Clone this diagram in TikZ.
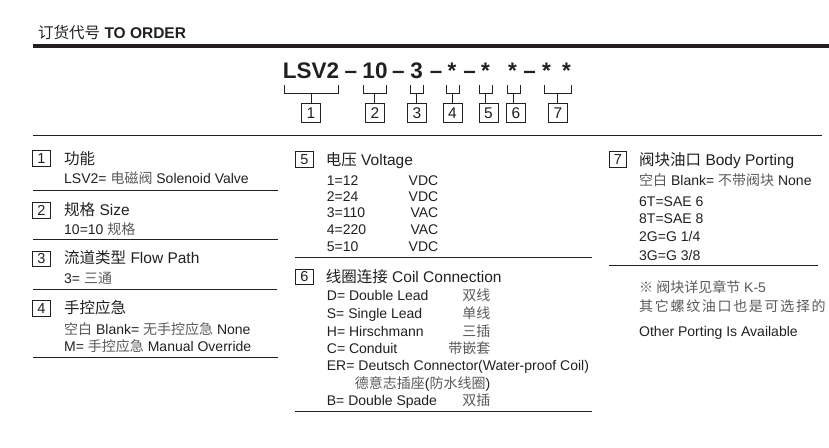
\documentclass[tikz,border=0pt]{standalone}
\usepackage{fontspec}
\setmainfont{Liberation Sans}
\newfontfamily\cjk{Noto Sans CJK SC}
\newfontfamily\cjkwide[LetterSpace=12]{Noto Sans CJK SC}
\usetikzlibrary{calc,positioning}
\definecolor{ink}{HTML}{231F20}
\definecolor{zhgray}{HTML}{5A5A5A}
\tikzset{
%Define styles for the different texts
head text/.style={anchor=base west, inner sep=0pt, text=ink, font=\fontsize{15.5}{18}\selectfont},
code text/.style={anchor=base, inner sep=0pt, text=ink, font=\fontsize{22.5}{26}\selectfont\bfseries},
title text/.style={anchor=base west, inner sep=0pt, text=ink, font=\fontsize{15.5}{18}\selectfont},
item text/.style={anchor=base west, inner sep=0pt, text=ink, font=\fontsize{14}{16}\selectfont},
%Define styles for boxes and lines
num box/.style={draw=ink, line width=0.9pt, minimum width=19pt, minimum height=19pt, inner sep=0pt, text=ink, font=\fontsize{15.5}{18}\selectfont},
sec box/.style={draw=ink, line width=0.9pt, minimum width=17.5pt, minimum height=15.5pt, inner sep=0pt, text=ink, font=\fontsize{14.5}{16}\selectfont},
thin rule/.style={line width=0.9pt, draw=ink},
thick rule/.style={line width=4pt, draw=ink},
code bracket/.style={line width=0.9pt, draw=ink},
}
\newcommand\zh[1]{{\cjk\color{zhgray}#1}}
\newcommand\zht[1]{{\cjk #1}}

\begin{document}
\begin{tikzpicture}[x=1pt,y=-1pt]
    \useasboundingbox (0,0) rectangle (829,447);
    %Heading and the rules
    \node[head text] (head) at (38,38) {\zht{订货代号} \textbf{TO ORDER}};
    \draw[thick rule] (33,46) -- (829,46);
    \draw[thin rule] (33,135) -- (822,135);

    %%%%%%%%%%%%%%%%%%%%%%
    %The order code
    %%%%%%%%%%%%%%%%%%%%%%
    \node[code text] (c1) at (311,78) {LSV2};
    \node[code text] (d1) at (351,78) {--};
    \node[code text] (c2) at (375,78) {10};
    \node[code text] (d2) at (398.5,78) {--};
    \node[code text] (c3) at (416.5,78) {3};
    \node[code text] (d3) at (436,78) {--};
    \node[code text] (c4) at (452,78) {*};
    \node[code text] (d4) at (469.5,78) {--};
    \node[code text] (c5) at (485.5,78) {*};
    \node[code text] (c6) at (512.5,78) {*};
    \node[code text] (d5) at (529.5,78) {--};
    \node[code text] (c7) at (546.5,78) {*};
    \node[code text] (c8) at (566.5,78) {*};

    %Numbered boxes under the code
    \node[num box] (num1) at (311,113) {1};
    \node[num box] (num2) at (375,113) {2};
    \node[num box] (num3) at (417,113) {3};
    \node[num box] (num4) at (452.5,113) {4};
    \node[num box] (num5) at (488.5,113) {5};
    \node[num box] (num6) at (516,113) {6};
    \node[num box] (num7) at (558,113) {7};

    %Brackets from the code to the boxes
    %%1
    \draw[code bracket] (284,85) |- (338,93) -- (338,85);
    \draw[code bracket] (311,93) |- (num1.north);
    %%2
    \draw[code bracket] (363,85) |- (386,93) -- (386,85);
    \draw[code bracket] (374.5,93) |- (num2.north);
    %%3
    \draw[code bracket] (410,85) |- (423,93) -- (423,85);
    \draw[code bracket] (416.5,93) |- (num3.north);
    %%4
    \draw[code bracket] (446,85) |- (459,93) -- (459,85);
    \draw[code bracket] (452.5,93) |- (num4.north);
    %%5
    \draw[code bracket] (479,85) |- (492,93) -- (492,85);
    \draw[code bracket] (485.5,93) |- (num5.north);
    %%6
    \draw[code bracket] (507,85) |- (520,93) -- (520,85);
    \draw[code bracket] (513.5,93) |- (num6.north);
    %%7
    \draw[code bracket] (544,85) |- (571,93) -- (571,85);
    \draw[code bracket] (557.5,93) |- (num7.north);

    %%%%%%%%%%%%%%%%%%%%%%
    %First column: 1 to 4
    %%%%%%%%%%%%%%%%%%%%%%
    \node[sec box] (sec1) at (41.5,158.5) {1};
    \node[title text] (t1) at (64,164) {\zht{功能}};
    \node[item text] (s1a) at (64,183) {LSV2= \zh{电磁阀} Solenoid Valve};
    \draw[thin rule] (33,190) -- (278,190);

    \node[sec box] (sec2) at (41.5,210.5) {2};
    \node[title text] (t2) at (64,215.5) {\zht{规格} Size};
    \node[item text] (s2a) at (64,234) {10=10 \zh{规格}};
    \draw[thin rule] (33,239) -- (278,239);

    \node[sec box] (sec3) at (41.5,259) {3};
    \node[title text] (t3) at (64,263.5) {\zht{流道类型} Flow Path};
    \node[item text] (s3a) at (64,283) {3= \zh{三通}};
    \draw[thin rule] (33,289) -- (277,289);

    \node[sec box] (sec4) at (41.5,308.5) {4};
    \node[title text] (t4) at (64,313.5) {\zht{手控应急}};
    \node[item text] (s4a) at (64,334) {\zh{空白} Blank= \zh{无手控应急} None};
    \node[item text] (s4b) at (64,351) {M= \zh{手控应急} Manual Override};
    \draw[thin rule] (33,357) -- (278,357);

    %%%%%%%%%%%%%%%%%%%%%%
    %Second column: 5 and 6
    %%%%%%%%%%%%%%%%%%%%%%
    \node[sec box] (sec5) at (304.5,159.2) {5};
    \node[title text] (t5) at (325.7,165) {\zht{电压} Voltage};
    \node[item text] (s5a) at (326.7,185) {1=12};
    \node[item text] (s5b) at (326.7,201) {2=24};
    \node[item text] (s5c) at (326.7,217.5) {3=110};
    \node[item text] (s5d) at (326.7,234) {4=220};
    \node[item text] (s5e) at (326.7,251.5) {5=10};
    \node[item text, anchor=base east] (v5a) at (438.5,185) {VDC};
    \node[item text, anchor=base east] (v5b) at (438.5,201) {VDC};
    \node[item text, anchor=base east] (v5c) at (438.5,217.5) {VAC};
    \node[item text, anchor=base east] (v5d) at (438.5,234) {VAC};
    \node[item text, anchor=base east] (v5e) at (438.5,251.5) {VDC};
    \draw[thin rule] (295,257) -- (592,257);

    \node[sec box] (sec6) at (304.5,277) {6};
    \node[title text] (t6) at (325.7,282) {\zht{线圈连接} Coil Connection};
    \node[item text] (s6a) at (326.7,300.7) {D= Double Lead};
    \node[item text] (s6b) at (326.7,318) {S= Single Lead};
    \node[item text] (s6c) at (326.7,336) {H= Hirschmann};
    \node[item text] (s6d) at (326.7,353.3) {C= Conduit};
    \node[item text] (s6e) at (326.7,370) {ER= Deutsch Connector(Water-proof Coil)};
    \node[item text, anchor=base east] (s6f) at (490.5,388) {\zh{德意志插座}(\zh{防水线圈})};
    \node[item text] (s6g) at (326.7,405) {B= Double Spade};
    \node[item text, anchor=base east] (z6a) at (490.5,300.7) {\zh{双线}};
    \node[item text, anchor=base east] (z6b) at (490.5,318) {\zh{单线}};
    \node[item text, anchor=base east] (z6c) at (490.5,336) {\zh{三插}};
    \node[item text, anchor=base east] (z6d) at (490.5,353.3) {\zh{带嵌套}};
    \node[item text, anchor=base east] (z6g) at (490.5,405) {\zh{双插}};
    \draw[thin rule] (295,411) -- (592,411);

    %%%%%%%%%%%%%%%%%%%%%%
    %Third column: 7 and the note
    %%%%%%%%%%%%%%%%%%%%%%
    \node[sec box] (sec7) at (618,159.2) {7};
    \node[title text] (t7) at (639,165) {\zht{阀块油口} Body Porting};
    \node[item text] (s7a) at (639,185) {\zh{空白} Blank= \zh{不带阀块} None};
    \node[item text] (s7b) at (639,206) {6T=SAE 6};
    \node[item text] (s7c) at (639,223.3) {8T=SAE 8};
    \node[item text] (s7d) at (639,241.7) {2G=G 1/4};
    \node[item text] (s7e) at (639,260) {3G=G 3/8};
    \draw[thin rule] (609,265) -- (818,265);

    \node[item text] (note1) at (639,292) {\zh{※ 阀块详见章节} {\color{zhgray}K-5}};
    \node[item text] (note2) at (639,311) {{\cjkwide\color{zhgray}其它螺纹油口也是可选择的}};
    \node[item text] (note3) at (639,336.7) {Other Porting Is Available};
\end{tikzpicture}
\end{document}
